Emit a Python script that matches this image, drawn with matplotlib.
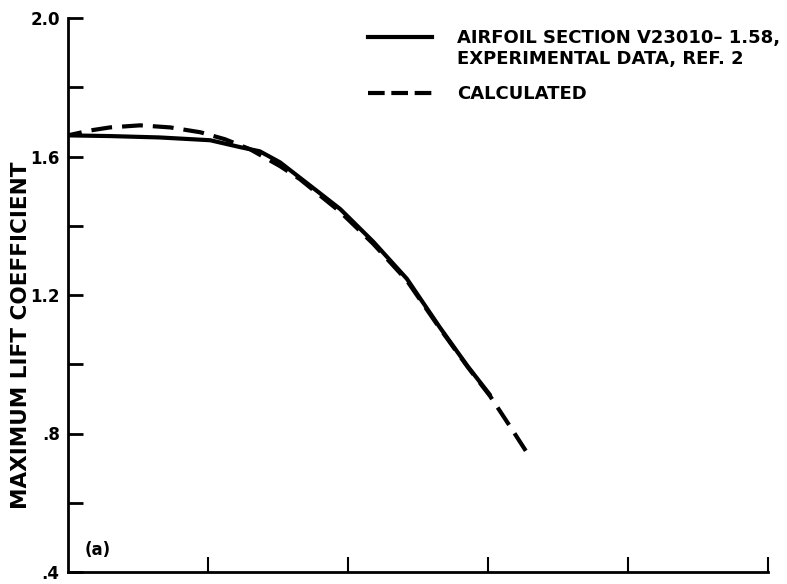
import matplotlib
matplotlib.use('Agg')
import matplotlib.pyplot as plt
from matplotlib.lines import Line2D

# values (x axis carries no labels, spans 0..1)
x_exp = [0.0, 0.06, 0.131, 0.203, 0.246, 0.274, 0.303, 0.356, 0.389, 0.436, 0.484, 0.531, 0.571, 0.603]
cl_exp = [1.661, 1.659, 1.655, 1.647, 1.627, 1.615, 1.583, 1.500, 1.448, 1.354, 1.247, 1.107, 0.994, 0.911]

x_calc = [0.0, 0.031, 0.06, 0.103, 0.146, 0.189, 0.224, 0.26, 0.303, 0.331, 0.389, 0.436, 0.484, 0.531, 0.571, 0.603, 0.631, 0.654]
cl_calc = [1.661, 1.675, 1.684, 1.690, 1.684, 1.670, 1.650, 1.621, 1.572, 1.535, 1.440, 1.348, 1.242, 1.104, 0.992, 0.908, 0.822, 0.750]

y_ticks = [0.4, 0.8, 1.2, 1.6, 2.0]
y_tick_labels = ['.4', '.8', '1.2', '1.6', '2.0']
y_minor = [0.6, 1.0, 1.4, 1.8]
x_ticks = [0.2, 0.4, 0.6, 0.8, 1.0]

exp_label = ['AIRFOIL SECTION V23010\u2013 1.58,', 'EXPERIMENTAL DATA, REF. 2']
calc_label = 'CALCULATED'

plt.rcParams['font.family'] = ['DejaVu Sans']
plt.rcParams['font.weight'] = 'bold'

W, H = 787, 584
fig = plt.figure(figsize=(W / 100, H / 100), dpi=100)
ax = fig.add_axes([68 / W, 12 / H, 700 / W, 554 / H])

ax.plot(x_exp, cl_exp, color='black', lw=3.0, solid_capstyle='round')
# drawn from the tip back so the pattern ends on a full dash, as in the reference
ax.plot(x_calc[::-1], cl_calc[::-1], color='black', lw=3.0, linestyle=(0, (5.0, 2.4)),
        dash_capstyle='butt')

ax.set_xlim(0, 1.0)
ax.set_ylim(0.4, 2.0)
for s in ['top', 'right']:
    ax.spines[s].set_visible(False)
for s in ['left', 'bottom']:
    ax.spines[s].set_linewidth(2.0)

ax.set_yticks(y_ticks)
ax.set_yticklabels(y_tick_labels, fontsize=12, fontweight='bold')
ax.set_yticks(y_minor, minor=True)
ax.tick_params(axis='y', which='both', direction='in', length=11, width=2.0, pad=6)
ax.set_xticks(x_ticks)
ax.set_xticklabels([])
ax.tick_params(axis='x', which='major', direction='in', length=11, width=1.5)

fig.text(21 / W, 1 - 335 / H, 'MAXIMUM LIFT COEFFICIENT', rotation=90, fontsize=15.5,
         fontweight='bold', ha='center', va='center')
fig.text(85 / W, 1 - 550 / H, '(a)', fontsize=12, fontweight='bold', ha='left', va='center')

# legend keys
fig.add_artist(Line2D([368 / W, 432 / W], [1 - 37 / H, 1 - 37 / H], color='black', lw=3.0,
                      transform=fig.transFigure))
fig.add_artist(Line2D([368 / W, 432 / W], [1 - 93 / H, 1 - 93 / H], color='black', lw=3.0,
                      linestyle=(0, (4.0, 1.6)), transform=fig.transFigure))
fig.text(457 / W, 1 - 38 / H, exp_label[0], fontsize=13, fontweight='bold', va='center')
fig.text(457 / W, 1 - 59 / H, exp_label[1], fontsize=13, fontweight='bold', va='center')
fig.text(457 / W, 1 - 94 / H, calc_label, fontsize=13, fontweight='bold', va='center')

fig.savefig('out.png', dpi=100)
